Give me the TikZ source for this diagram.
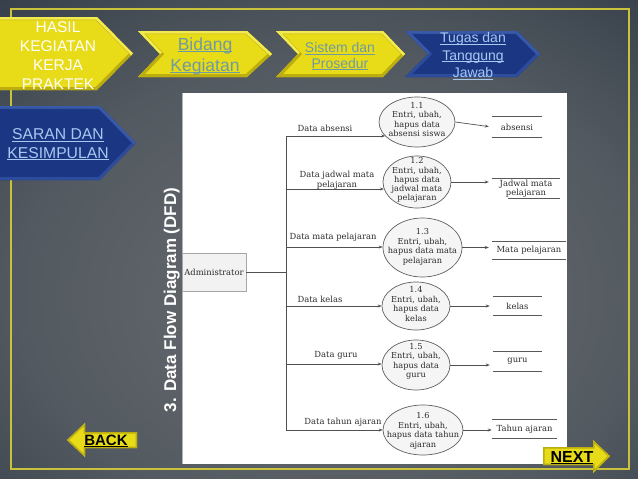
\documentclass[tikz,border=0pt]{standalone}
\usepackage{fontspec}
\setmainfont{Liberation Sans}
\newfontfamily\dfdfont{DejaVu Serif}
\usetikzlibrary{shapes.geometric,arrows.meta}

\definecolor{bgA}{HTML}{6A6E71}
\definecolor{bgB}{HTML}{525960}
\definecolor{bgC}{HTML}{2C3642}
\definecolor{bgD}{HTML}{1B2531}
\definecolor{frameY}{HTML}{C9C23A}
\definecolor{yface}{HTML}{E8DB18}
\definecolor{yedge}{HTML}{BDAE10}
\definecolor{yhi}{HTML}{F2EA50}
\definecolor{bface}{HTML}{1B3682}
\definecolor{bedge}{HTML}{2D4C9C}
\definecolor{bhi}{HTML}{3858A8}
\definecolor{linkY}{HTML}{6E9AA4}
\definecolor{linkB}{HTML}{A8C8F2}
\definecolor{dfdline}{HTML}{505050}
\definecolor{dfdtext}{HTML}{2C2C2C}

\pgfdeclareradialshading{bgshade}{\pgfpoint{2bp}{-8bp}}{%
  color(0bp)=(bgA); color(25bp)=(bgB); color(45bp)=(bgC); color(62bp)=(bgD); color(80bp)=(bgD)}

\newcommand{\chevP}[6]{(#1,#2) -- ({#3-#5},#2) -- (#3,{(#2+#4)/2}) -- ({#3-#5},#4) -- (#1,#4) -- ({#1+#6},{(#2+#4)/2}) -- cycle}
\newcommand{\chev}[9]{%
  \begin{scope}
  \clip \chevP{#1}{#2}{#3}{#4}{#5}{#6};
  \fill[#7] \chevP{#1}{#2}{#3}{#4}{#5}{#6};
  \draw[#8, line width=6pt, line join=miter] \chevP{#1}{#2}{#3}{#4}{#5}{#6};
  \draw[#9, line width=5pt, line join=miter] ({#1+#6},{(#2+#4)/2}) -- (#1,#2) -- ({#3-#5},#2) -- (#3,{(#2+#4)/2});
  \end{scope}}
\newcommand{\bevel}[4]{%
  \begin{scope}
  \clip #1;
  \fill[#2] #1;
  \draw[#3, line width=#4, line join=miter] #1;
  \end{scope}}
\newcommand{\ulink}[1]{\setbox0\hbox{#1}\rlap{\rule[-0.13em]{\wd0}{0.065em}}\box0}

\begin{document}
\begin{tikzpicture}[x=1pt,y=-1pt,
  proc/.style={ellipse, draw=gray!75!black, fill=gray!8, line width=0.7pt, inner sep=0pt},
  ptext/.style={font=\dfdfont\fontsize{8.2}{9.5}\selectfont, text=dfdtext, align=center, inner sep=0pt},
  lbl/.style={font=\dfdfont\fontsize{8.4}{9.8}\selectfont, text=dfdtext, align=center, inner sep=0pt},
  store/.style={inner sep=0pt, font=\dfdfont\fontsize{8.4}{9.5}\selectfont, text=dfdtext, align=center},
  storeline/.style={draw=gray!70!black, line width=0.7pt},
  adminbox/.style={draw=gray!70, fill=gray!10, line width=0.7pt, inner sep=0pt,
    minimum width=64pt, minimum height=38pt, font=\dfdfont\fontsize{8.4}{9.5}\selectfont, text=dfdtext},
  flow/.style={draw=dfdline, line width=0.7pt},
  arr/.style={flow, -{Stealth[length=4pt,width=3pt]}},
  ytext/.style={align=center, inner sep=0pt, text=linkY},
  btext/.style={align=center, inner sep=0pt, text=linkB},
  btn/.style={inner sep=0pt, anchor=base, text=black, font=\bfseries\fontsize{15}{18}\selectfont}]
\useasboundingbox (0,0) rectangle (638,479);
\shade[shading=bgshade] (0,0) rectangle (638,479);

% frame
\draw[frameY, line width=1.3pt] (11,9) rectangle (629,469);

% chevrons
\chev{-6}{17}{133}{90}{36}{0}{yface}{yedge}{yhi}
\chev{138}{31}{272}{77}{25}{22}{yface}{yedge}{yhi}
\chev{276}{31}{405}{77}{22}{22}{yface}{yedge}{yhi}
\chev{405}{31}{540}{77}{23}{23}{bface}{bedge}{bhi}
\chev{-6}{106}{136}{180}{36}{0}{bface}{bedge}{bhi}

\node[align=center, inner sep=0pt, text=white, font=\fontsize{15.5}{19}\selectfont] (c1) at (58,56) {HASIL\\KEGIATAN\\KERJA\\PRAKTEK};
\node[ytext, font=\fontsize{17.5}{21}\selectfont] (c2) at (205,56) {\ulink{Bidang}\\\ulink{Kegiatan}};
\node[ytext, font=\fontsize{14}{15.5}\selectfont] (c3) at (340,56.5) {\ulink{Sistem dan}\\\ulink{Prosedur}};
\node[btext, font=\fontsize{14}{17.5}\selectfont] (c4) at (473,56.3) {\ulink{Tugas dan}\\\ulink{Tanggung}\\\ulink{Jawab}};
\node[btext, font=\fontsize{15.7}{18.5}\selectfont] (c5) at (58,144.6) {\ulink{SARAN DAN}\\\ulink{KESIMPULAN}};

% title
\node[rotate=90, anchor=base, inner sep=0pt, text=white, font=\bfseries\fontsize{17}{20}\selectfont] (title) at (176,300) {3. Data Flow Diagram (DFD)};

% panel
\fill[white] (182,93) rectangle (567,464);
\draw[gray!60, line width=1pt] (182,93) -- (182,464);

% DFD
\node[adminbox] (admin) at (214,272) {Administrator};

\node[proc, minimum width=76pt, minimum height=50pt] (p1) at (417,122) {};
\node[ptext] (t1) at (417,119.5) {1.1\\Entri, ubah,\\hapus data\\absensi siswa};
\node[proc, minimum width=68pt, minimum height=52pt] (p2) at (417,182) {};
\node[ptext, font=\dfdfont\fontsize{8.2}{9.1}\selectfont] (t2) at (417,180) {1.2\\Entri, ubah,\\hapus data\\jadwal mata\\pelajaran};
\node[proc, minimum width=79pt, minimum height=59pt] (p3) at (422.5,247.5) {};
\node[ptext] (t3) at (422.5,247) {1.3\\Entri, ubah,\\hapus data mata\\pelajaran};
\node[proc, minimum width=68pt, minimum height=48pt] (p4) at (416,306) {};
\node[ptext] (t4) at (416,304) {1.4\\Entri, ubah,\\hapus data\\kelas};
\node[proc, minimum width=68pt, minimum height=50pt] (p5) at (416,365) {};
\node[ptext] (t5) at (416,361.5) {1.5\\Entri, ubah,\\hapus data\\guru};
\node[proc, minimum width=80pt, minimum height=50pt] (p6) at (423,430) {};
\node[ptext] (t6) at (423,431) {1.6\\Entri, ubah,\\hapus data tahun\\ajaran};

\node[store, minimum width=50pt, minimum height=20pt] (s1) at (517,127) {absensi};
\node[store, minimum width=68pt, minimum height=19pt] (s2) at (526,188.5) {Jadwal mata\\pelajaran};
\node[store, minimum width=74pt, minimum height=17pt] (s3) at (529,250.5) {Mata pelajaran};
\node[store, minimum width=49pt, minimum height=18pt] (s4) at (517.5,306) {kelas};
\node[store, minimum width=49pt, minimum height=19pt] (s5) at (517.5,361.5) {guru};
\node[store, minimum width=65pt, minimum height=18pt] (s6) at (524.5,429) {Tahun ajaran};
\foreach \s in {s1,s3,s4,s5,s6}{
  \draw[storeline] (\s.north west) -- (\s.north east) (\s.south west) -- (\s.south east);
}
\draw[storeline] (s2.north west) -- (s2.north east);
\draw[storeline] (s2.south west) ++(16,0) -- (s2.south east);

\coordinate (j0) at (286,272);
\coordinate (b1) at (286,136);
\coordinate (b2) at (286,189);
\coordinate (b3) at (286,247);
\coordinate (b4) at (286,306);
\coordinate (b5) at (286,364);
\coordinate (b6) at (286,430);
\draw[flow] (admin.east) -- (j0);
\draw[flow] (b1) -- (b6);
\draw[arr] (b1) -- (b1 -| p1.204);
\draw[arr] (b2) -- (b2 -| p2.192);
\draw[arr] (b3) -- (b3 -| p3.west);
\draw[arr] (b4) -- (b4 -| p4.west);
\draw[arr] (b5) -- (b5 -| p5.west);
\draw[arr] (b6) -- (b6 -| p6.west);

\node[lbl] (l1) at (325,128) {Data absensi};
\node[lbl] (l2) at (337,180.5) {Data jadwal mata\\pelajaran};
\node[lbl] (l3) at (333,237) {Data mata pelajaran};
\node[lbl] (l4) at (320,299) {Data kelas};
\node[lbl] (l5) at (336,355) {Data guru};
\node[lbl] (l6) at (343,422) {Data tahun ajaran};

\draw[arr, shorten >=3pt] (p1.east) -- (s1.west);
\draw[arr, shorten >=3pt] (p2.east) -- (p2.east -| s2.west);
\draw[arr, shorten >=3pt] (p3.east) -- (p3.east -| s3.west);
\draw[arr, shorten >=3pt] (p4.east) -- (p4.east -| s4.west);
\draw[arr, shorten >=3pt] (p5.east) -- (p5.east -| s5.west);
\draw[arr] (p6.east) -- (p6.east -| s6.west);

% buttons
\bevel{(67,440) -- (85,423) -- (85,432) -- (137,432) -- (137,448) -- (85,448) -- (85,457) -- cycle}{yface}{yedge}{3pt}
\node[btn] (back) at (106,445) {\ulink{BACK}};
\bevel{(543,447) -- (593,447) -- (593,440) -- (610,456) -- (593,473) -- (593,465) -- (543,465) -- cycle}{yface}{yedge}{3pt}
\node[btn, font=\bfseries\fontsize{16}{19}\selectfont] (next) at (572,462) {\ulink{NEXT}};
\end{tikzpicture}
\end{document}
